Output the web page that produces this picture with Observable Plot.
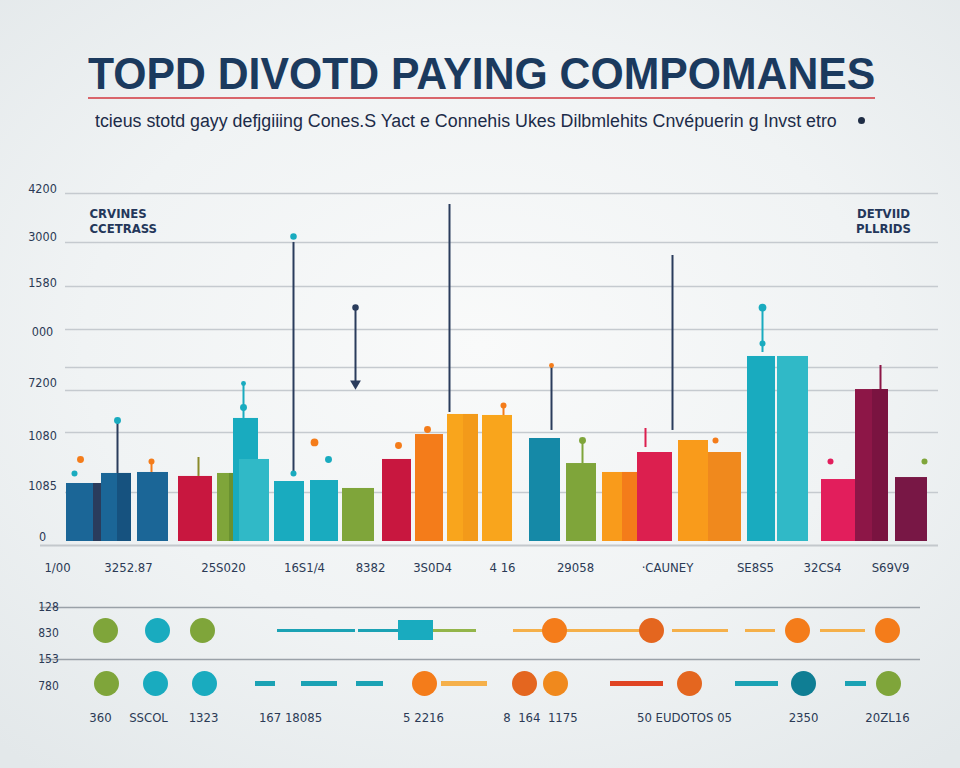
<!DOCTYPE html>
<html><head><meta charset="utf-8">
<script src="https://cdn.jsdelivr.net/npm/d3@7"></script>
<script src="https://cdn.jsdelivr.net/npm/@observablehq/plot@0.6"></script>
<style>
html,body{margin:0;padding:0;width:960px;height:768px;overflow:hidden;}
body{position:relative;background:radial-gradient(ellipse 75% 70% at 50% 45%, #f9fafa 0%, #f0f3f4 55%, #e3e8ea 100%);font-family:"Liberation Sans",Arial,sans-serif;}
#title{position:absolute;left:88px;top:51px;font-weight:700;font-size:45px;line-height:1;color:#1b3a5e;white-space:nowrap;transform-origin:0 0;display:inline-block;}
#rule{position:absolute;left:88px;top:97px;width:787px;height:2px;background:#d9656b;}
#sub{position:absolute;left:95px;top:112px;font-size:18px;line-height:1;color:#1c2b48;white-space:nowrap;transform-origin:0 0;display:inline-block;}
#subdot{position:absolute;left:858px;top:117px;width:7px;height:7px;border-radius:50%;background:#1f2d45;}
#main{position:absolute;left:0;top:180px;}
#strip{position:absolute;left:0;top:590px;}
svg{background:transparent;overflow:visible;}
</style></head>
<body>
<div id="title"></div>
<div id="rule"></div>
<div id="sub"></div>
<div id="subdot"></div>
<div id="main"></div>
<div id="strip"></div>
<script>
const titleText = "TOPD DIVOTD PAYING COMPOMANES";
const subtitleText = "tcieus stotd gayy defjgiiing Cones.S Yact e Connehis Ukes Dilbmlehits Cnvépuerin g Invst etro";

// y gridlines (value units) and tick labels
const gridValues = [4200, 3609, 3078, 2559, 2100, 1822, 1316, 591];
const tickLabels = ["4200", "3000", "1580", "000", "7200", "1080", "1085", "0"];
const tickLabelValues = [4250, 3681, 3114, 2523, 1907, 1279, 664, 60];

// corner annotations
const leftNote = ["CRVINES", "CCETRASS"];
const rightNote = ["DETVIID", "PLLRIDS"];
const noteValues = [3959, 3778];

// category labels along the bottom of the bar chart
const xLabels = ["1/00", "3252.87", "25S020", "16S1/4", "8382", "3S0D4", "4 16", "29058", "·CAUNEY", "SE8S5", "32CS4", "S69V9"];
const xLabelPos = [57, 128, 223, 304, 370, 432, 502, 575, 667, 755, 822, 890];

// bars: start, end, value, series
const barStart = [66, 93, 101, 117, 137, 178, 217, 229, 233, 239, 274, 310, 342, 382, 415, 447, 463, 482, 529, 566, 602, 622, 637, 678, 708, 747, 777, 821, 855, 872, 895];
const barEnd   = [101, 101, 131, 131, 168, 212, 237, 237, 258, 269, 304, 338, 374, 411, 443, 478, 478, 512, 560, 596, 637, 637, 672, 708, 741, 775, 808, 855, 888, 888, 927];
const barValue = [700, 700, 821, 821, 833, 785, 821, 821, 1485, 990, 724, 736, 640, 990, 1291, 1533, 1533, 1521, 1243, 941, 833, 833, 1074, 1219, 1074, 2233, 2233, 748, 1834, 1834, 772];
const barSeries = ["blue", "navy", "blue", "blueDark", "blue", "red", "green", "greenDark", "teal", "tealLight", "teal", "teal", "green", "red", "orange", "amber", "amberDark", "amber", "blueTeal", "green", "amberOrange", "orange", "crimson", "amberOrange", "orange2", "teal", "tealLight", "pink", "maroon", "maroonDark", "maroon2"];

// stems: position, low, high, series
const stemPos  = [293, 355, 449, 551, 672, 117, 243, 762, 880, 645, 198, 582, 151, 503];
const stemLow  = [797, 1907, 1557, 1340, 1340, 821, 1485, 2281, 1834, 1134, 785, 941, 833, 1521];
const stemHigh = [3609, 2824, 4067, 2100, 3452, 1460, 1907, 2824, 2124, 1364, 1014, 1243, 965, 1640];
const stemSeries = ["navy", "navy", "navy", "navy", "navy", "navy", "teal", "teal", "maroon", "crimson", "olive", "green", "orange", "orange"];

// markers on top of stems
const markerPos = [74, 80, 151, 117, 293, 293, 355, 243, 243, 314, 328, 398, 427, 503, 582, 762, 762, 830, 924, 715, 551];
const markerValue = [821, 990, 966, 1460, 3681, 821, 2824, 1617, 1907, 1195, 990, 1159, 1352, 1641, 1219, 2824, 2390, 966, 966, 1219, 2124];
const markerSeries = ["teal", "orange", "orange", "teal", "teal", "teal", "navy", "teal", "teal", "orange", "teal", "orange", "orange", "orange", "green", "teal", "teal", "pink", "green", "orange", "orange"];
const markerSize = [3, 4, 3, 4, 3.5, 3, 3.5, 4, 2, 5, 4, 4, 4, 3, 4, 5, 3, 3, 3, 3, 2];

// bottom strip
const stripGridLabels = ["128", "153"];
const stripRowLabels = ["830", "780"];
const row1Circles = [105, 157, 202, 554, 651, 797, 887];
const row1CircleSeries = ["green", "teal", "green", "orange", "orangeRed", "orange", "orange"];
const row1SegStart = [277, 358, 433, 513, 565, 672, 745, 820];
const row1SegEnd = [355, 398, 476, 545, 640, 728, 775, 865];
const row1SegSeries = ["tealLine", "tealLine", "lightGreen", "lightOrange", "lightOrange", "lightOrange", "lightOrange", "lightOrange"];
const row1Square = [398, 433];
const row2Circles = [106, 155, 204, 424, 524, 555, 689, 803, 888];
const row2CircleSeries = ["green", "teal", "teal", "orange", "orangeRed", "orange2", "orangeRed", "darkTeal", "green"];
const row2SegStart = [255, 301, 356, 441, 610, 735, 845];
const row2SegEnd = [275, 337, 383, 487, 663, 778, 866];
const row2SegSeries = ["tealLine", "tealLine", "tealLine", "lightOrange", "redLine", "tealLine", "tealLine"];
const stripLabels = ["360", "SSCOL", "1323", "167 18085", "5 2216", "8  164  1175", "50 EUDOTOS 05", "2350", "20ZL16"];
const stripLabelPos = [100, 148, 203, 290, 423, 540, 684, 803, 887];

const palette = {
  blue: "#1b6697", navy: "#2a3c5c", blueDark: "#16527f", red: "#c8173f", green: "#7fa53a", greenDark: "#6a9130",
  teal: "#19abbf", tealLight: "#30b9c7", orange: "#f47c1a", amber: "#f9a51c", amberDark: "#f39a1a",
  blueTeal: "#1589a7", amberOrange: "#f99b1b", crimson: "#dc1f4f", orange2: "#f0891d", pink: "#e21e5c",
  maroon: "#8d1647", maroonDark: "#7a1340", maroon2: "#781745", olive: "#8a8a2a",
  orangeRed: "#e4661f", darkTeal: "#0f7e94", tealLine: "#1ba2b4", lightGreen: "#93b54a",
  lightOrange: "#f5b04a", redLine: "#e04423"
};
const col = d => palette[d.c];

// header
const t = document.getElementById("title");
t.textContent = titleText;
t.style.transform = `scaleX(${787 / t.offsetWidth})`;
const s = document.getElementById("sub");
s.textContent = subtitleText;
s.style.transform = `scaleX(${742 / s.offsetWidth})`;

const bars = barStart.map((x1, i) => ({x1, x2: barEnd[i], v: barValue[i], c: barSeries[i]}));
const stems = stemPos.map((x, i) => ({x, y1: stemLow[i], y2: stemHigh[i], c: stemSeries[i]}));
const markers = markerPos.map((x, i) => ({x, y: markerValue[i], c: markerSeries[i], r: markerSize[i]}));
const grid = gridValues.map(v => ({v}));
const ticks = tickLabels.map((l, i) => ({l, v: tickLabelValues[i]}));
const xl = xLabels.map((l, i) => ({l, x: xLabelPos[i]}));

const font = "'DejaVu Sans Condensed','Liberation Sans Narrow',sans-serif";

const main = Plot.plot({
  width: 960, height: 400,
  marginTop: 13, marginBottom: 39, marginLeft: 0, marginRight: 0,
  x: {domain: [0, 960], range: [0, 960], axis: null},
  y: {domain: [0, 4200], axis: null},
  marks: [
    Plot.ruleY(grid, {y: "v", x1: 65, x2: 938, stroke: "#c5cacf", strokeWidth: 1.5}),
    Plot.ruleY([-48], {x1: 40, x2: 938, stroke: "#c3c8cc", strokeWidth: 2}),
    Plot.text(ticks, {x: 42, y: "v", text: "l", fill: "#2b3a55", fontSize: 12.5, fontFamily: font}),
    Plot.rect(bars, {x1: "x1", x2: "x2", y1: 0, y2: "v", fill: col}),
    Plot.ruleX(stems, {x: "x", y1: "y1", y2: "y2", stroke: col, strokeWidth: 2}),
    Plot.dot([{x: 355, y: 1907}], {x: "x", y: "y", symbol: "triangle", rotate: 180, r: 4, fill: palette.navy}),
    Plot.dot(markers, {x: "x", y: "y", r: "r", fill: col}),
    Plot.text(xl, {x: "x", y: -314, text: "l", fill: "#2b3a55", fontSize: 13, fontFamily: font}),
    Plot.text(leftNote, {x: 89, y: noteValues, text: d => d, textAnchor: "start", fill: "#24375a", fontSize: 13, fontWeight: "bold", fontFamily: font}),
    Plot.text(rightNote, {x: 883, y: noteValues, text: d => d, fill: "#24375a", fontSize: 13, fontWeight: "bold", fontFamily: font})
  ]
});
main.setAttribute("style", "background:transparent;overflow:visible");
document.getElementById("main").appendChild(main);

// strip levels (vertical positions within the strip)
const gridLevel = [17, 69];
const rowLevel = [40, 93];
const labelLevel = 127;

const circles = [
  ...row1Circles.map((x, i) => ({x, y: rowLevel[0], c: row1CircleSeries[i]})),
  ...row2Circles.map((x, i) => ({x, y: rowLevel[1], c: row2CircleSeries[i]}))
];
const segs1 = row1SegStart.map((x1, i) => ({x1, x2: row1SegEnd[i], y: rowLevel[0], c: row1SegSeries[i]}));
const segs2 = row2SegStart.map((x1, i) => ({x1, x2: row2SegEnd[i], y: rowLevel[1], c: row2SegSeries[i]}));

const strip = Plot.plot({
  width: 960, height: 150, margin: 0,
  x: {domain: [0, 960], range: [0, 960], axis: null},
  y: {domain: [0, 150], range: [0, 150], axis: null},
  marks: [
    Plot.ruleY(gridLevel, {x1: 40, x2: 920, stroke: "#9aa1a8", strokeWidth: 1.5}),
    Plot.text(stripGridLabels, {x: 48, y: gridLevel, text: d => d, fill: "#2b3a55", fontSize: 12, fontFamily: font}),
    Plot.text(stripRowLabels, {x: 48, y: [43, 96], text: d => d, fill: "#2b3a55", fontSize: 12, fontFamily: font}),
    Plot.ruleY(segs1, {x1: "x1", x2: "x2", y: "y", stroke: col, strokeWidth: 3}),
    Plot.ruleY(segs2, {x1: "x1", x2: "x2", y: "y", stroke: col, strokeWidth: 5}),
    Plot.rect([row1Square], {x1: d => d[0], x2: d => d[1], y1: rowLevel[0] - 10, y2: rowLevel[0] + 10, fill: palette.teal}),
    Plot.dot(circles, {x: "x", y: "y", r: 12.5, fill: col}),
    Plot.text(stripLabels, {x: stripLabelPos, y: labelLevel, text: d => d, fill: "#2b3a55", fontSize: 13, fontFamily: font})
  ]
});
strip.setAttribute("style", "background:transparent;overflow:visible");
document.getElementById("strip").appendChild(strip);
</script>
</body></html>
